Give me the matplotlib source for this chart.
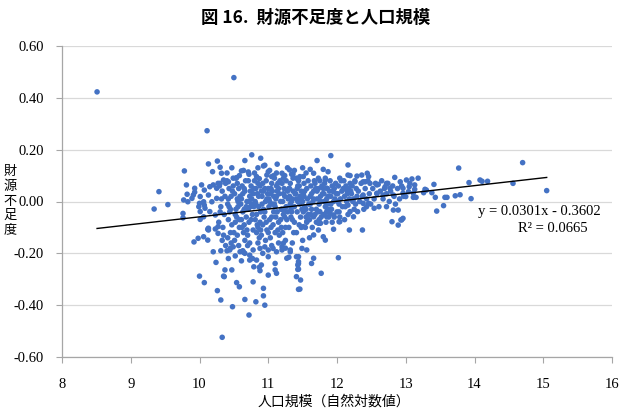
import matplotlib
matplotlib.use("Agg")
import matplotlib.pyplot as plt
import numpy as np

# --- data (x = log population, y = shortfall ratio) ---
outliers = [(8.51, 0.423), (10.50, 0.478), (10.11, 0.273), (10.33, -0.524),
            (10.72, -0.438), (10.48, -0.406)]

left_pts = [(9.41, 0.038), (9.34, -0.029), (9.54, -0.012), (9.78, 0.118), (9.81, 0.064),
            (9.82, 0.028), (9.93, 0.051), (9.93, 0.036), (10.01, 0.019), (10.03, 0.064),
            (10.07, -0.014), (9.99, -0.02), (9.89, 0.012), (9.76, -0.046), (9.77, 0.006),
            (10.15, 0.057), (10.2, 0.064), (10.25, 0.051), (10.13, 0.025), (10.18, -0.001),
            (10.25, 0.012), (10.15, -0.039), (10.23, -0.052), (10.01, -0.039), (10.06, -0.059),
            (10.13, -0.103), (10.27, -0.097), (9.76, -0.063), (10.01, -0.069), (10.08, -0.026),
            (9.91, 0.025), (9.83, -0.001), (10.06, -0.001), (10.0, -0.007), (10.07, 0.044),
            (10.13, 0.145), (10.19, 0.115), (10.26, 0.156), (10.3, 0.132), (10.32, 0.109),
            (10.27, 0.07), (9.92, -0.156), (9.98, -0.142), (10.06, -0.136), (10.12, -0.149),
            (10.13, -0.11), (10.23, -0.106), (10.27, -0.123), (10.2, -0.194), (10.24, -0.235),
            (10.0, -0.288), (10.07, -0.313), (10.12, -0.107)]

lower_pts = [(10.26, -0.344), (10.31, -0.38), (10.66, -0.378), (10.82, -0.387), (10.95, -0.4),
             (10.93, -0.364), (10.93, -0.335), (10.78, -0.31), (10.58, -0.329), (10.54, -0.313),
             (10.36, -0.29), (10.47, -0.264), (10.37, -0.264), (10.61, -0.229), (10.73, -0.226),
             (10.79, -0.252), (10.87, -0.254), (10.88, -0.267), (11.0, -0.284), (11.1, -0.264),
             (11.12, -0.277), (11.41, -0.29), (11.44, -0.339), (11.43, -0.262), (11.43, -0.245),
             (10.31, -0.19), (10.4, -0.19), (10.44, -0.187), (10.49, -0.175), (10.59, -0.194),
             (10.66, -0.2), (10.73, -0.207), (10.78, -0.187), (10.88, -0.181), (10.95, -0.175),
             (11.0, -0.187), (11.07, -0.181), (11.12, -0.194), (11.2, -0.187), (11.27, -0.219),
             (11.32, -0.194), (11.41, -0.213), (11.44, -0.232), (10.83, -0.226), (10.9, -0.245),
             (11.0, -0.213), (11.1, -0.239), (11.49, -0.181), (11.56, -0.187), (11.32, -0.187),
             (11.3, -0.215), (11.44, -0.213), (11.66, -0.219), (11.63, -0.239), (11.44, -0.239),
             (11.44, -0.261), (11.47, -0.303), (11.46, -0.338), (11.77, -0.277), (12.02, -0.217),
             (11.2, -0.175), (11.22, -0.161), (11.8, -0.136), (11.83, -0.149), (11.66, -0.129),
             (11.95, -0.107), (12.18, -0.11), (12.37, -0.11), (10.64, -0.196), (10.35, -0.288),
             (10.45, -0.18), (10.52, -0.21), (10.57, -0.17), (10.63, -0.19), (10.70, -0.17),
             (10.77, -0.22), (10.85, -0.16), (10.92, -0.20), (11.05, -0.17), (11.15, -0.16),
             (11.25, -0.18), (11.35, -0.16), (11.5, -0.15), (11.6, -0.14), (10.38, -0.17),
             (10.42, -0.22)]

upper_pts = [(10.76, 0.18), (10.66, 0.158), (10.89, 0.167), (10.93, 0.137), (11.13, 0.144),
             (11.31, 0.122), (10.71, 0.114), (10.72, 0.105), (10.61, 0.118), (10.54, 0.092),
             (10.83, 0.096), (10.87, 0.088), (10.98, 0.102), (11.08, 0.1), (11.2, 0.109),
             (11.22, 0.09), (11.36, 0.106), (11.44, 0.083), (11.0, 0.115), (11.05, 0.096),
             (11.24, 0.1), (11.41, 0.09), (10.35, 0.083), (10.42, 0.076), (10.49, 0.09),
             (10.3, 0.07), (11.71, 0.158), (11.91, 0.177), (12.16, 0.141), (11.87, 0.115),
             (11.8, 0.124), (11.61, 0.124), (11.66, 0.109), (11.34, 0.105), (11.46, 0.096),
             (11.51, 0.096), (11.73, 0.09), (11.83, 0.083), (12.04, 0.09), (12.16, 0.102),
             (12.29, 0.098), (12.36, 0.102), (12.44, 0.109), (12.38, 0.076), (12.48, 0.07),
             (12.58, 0.064), (12.72, 0.07), (12.84, 0.093), (12.92, 0.076), (12.19, 0.1),
             (12.26, 0.076), (12.46, 0.096), (12.41, 0.076), (12.6, 0.066), (12.7, 0.057),
             (12.77, 0.051), (12.96, 0.051), (12.82, 0.025), (12.67, 0.025), (12.58, 0.032),
             (12.38, 0.025), (12.14, 0.044), (11.95, 0.038), (11.85, 0.051),
             (10.40, 0.11), (10.47, 0.13), (10.58, 0.10), (10.64, 0.12), (10.80, 0.11),
             (10.85, 0.13), (11.02, 0.12), (11.12, 0.11), (11.28, 0.13), (11.38, 0.12),
             (11.50, 0.13), (10.95, 0.14), (11.55, 0.11)]

core_pts = [
    (10.31, -0.02), (10.33, 0.04), (10.28, -0.08), (10.35, -0.13), (10.32, 0.01), (10.29, 0.06),
    (10.36, -0.05), (10.34, -0.10), (10.30, -0.04), (10.37, 0.02), (10.33, -0.15), (10.38, 0.07),
    (10.41, -0.01), (10.43, 0.05), (10.42, -0.07), (10.45, -0.12), (10.40, 0.08), (10.46, 0.02),
    (10.44, -0.04), (10.47, -0.09), (10.41, -0.14), (10.48, 0.04), (10.43, -0.02), (10.46, -0.16),
    (10.49, 0.06), (10.42, 0.01),
    (10.51, 0.03), (10.53, -0.03), (10.52, -0.08), (10.55, 0.07), (10.50, -0.12), (10.56, 0.00),
    (10.54, -0.06), (10.57, 0.05), (10.51, -0.15), (10.58, -0.10), (10.53, 0.09), (10.56, -0.02),
    (10.59, 0.02), (10.52, -0.05), (10.55, -0.13),
    (10.61, 0.01), (10.63, -0.04), (10.62, 0.06), (10.65, -0.09), (10.60, -0.01), (10.66, 0.04),
    (10.64, -0.12), (10.67, 0.08), (10.61, -0.07), (10.68, -0.02), (10.63, 0.03), (10.66, -0.15),
    (10.69, 0.00), (10.62, -0.10), (10.65, 0.05), (10.68, -0.06),
    (10.71, -0.03), (10.73, 0.02), (10.72, -0.08), (10.75, 0.06), (10.70, -0.13), (10.76, -0.01),
    (10.74, 0.04), (10.77, -0.05), (10.71, 0.08), (10.78, -0.11), (10.73, -0.16), (10.76, 0.01),
    (10.79, 0.05), (10.72, 0.00), (10.75, -0.07), (10.78, 0.03),
    (10.81, 0.00), (10.83, -0.05), (10.82, 0.05), (10.85, -0.10), (10.80, 0.08), (10.86, -0.02),
    (10.84, 0.03), (10.87, -0.14), (10.81, -0.07), (10.88, 0.06), (10.83, -0.12), (10.86, 0.02),
    (10.89, -0.04), (10.82, -0.01), (10.85, 0.07), (10.88, -0.08),
    (10.91, 0.02), (10.93, -0.03), (10.92, -0.09), (10.95, 0.05), (10.90, -0.13), (10.96, 0.00),
    (10.94, -0.06), (10.97, 0.08), (10.91, -0.01), (10.98, -0.11), (10.93, 0.04), (10.96, -0.15),
    (10.99, 0.03), (10.92, 0.07), (10.95, -0.04), (10.98, 0.01),
    (11.01, -0.02), (11.03, 0.03), (11.02, -0.07), (11.05, 0.07), (11.00, -0.12), (11.06, -0.01),
    (11.04, 0.05), (11.07, -0.09), (11.01, 0.01), (11.08, -0.04), (11.03, -0.14), (11.06, 0.04),
    (11.09, 0.09), (11.02, 0.00), (11.05, -0.06), (11.08, 0.02),
    (11.11, 0.01), (11.13, -0.04), (11.12, 0.06), (11.15, -0.08), (11.10, -0.02), (11.16, 0.03),
    (11.14, -0.11), (11.17, 0.08), (11.11, -0.06), (11.18, 0.00), (11.13, 0.04), (11.16, -0.13),
    (11.19, -0.03), (11.12, 0.02), (11.15, 0.05), (11.18, -0.07),
    (11.21, 0.00), (11.23, 0.05), (11.22, -0.05), (11.25, -0.10), (11.20, 0.07), (11.26, -0.02),
    (11.24, 0.02), (11.27, -0.07), (11.21, -0.12), (11.28, 0.04), (11.23, -0.03), (11.26, 0.08),
    (11.29, 0.01), (11.22, 0.03), (11.25, -0.15), (11.28, -0.04),
    (11.31, 0.02), (11.33, -0.03), (11.32, 0.07), (11.35, -0.07), (11.30, -0.10), (11.36, 0.04),
    (11.34, 0.00), (11.37, -0.12), (11.31, 0.05), (11.38, -0.02), (11.33, -0.06), (11.36, 0.09),
    (11.39, 0.03), (11.32, -0.01), (11.35, 0.01),
    (11.41, 0.01), (11.43, 0.06), (11.42, -0.04), (11.45, -0.09), (11.40, 0.03), (11.46, -0.01),
    (11.44, 0.08), (11.47, -0.06), (11.41, -0.12), (11.48, 0.04), (11.43, 0.00), (11.46, 0.02),
    (11.49, -0.03), (11.42, 0.05),
    (11.51, 0.03), (11.53, -0.02), (11.52, 0.07), (11.55, -0.06), (11.50, 0.00), (11.56, 0.05),
    (11.54, -0.10), (11.57, 0.01), (11.51, -0.04), (11.58, 0.08), (11.53, 0.04), (11.56, -0.08),
    (11.59, -0.01), (11.52, 0.02),
    (11.61, 0.02), (11.63, -0.03), (11.62, 0.06), (11.65, 0.00), (11.60, -0.07), (11.66, 0.04),
    (11.64, -0.10), (11.67, 0.08), (11.61, -0.01), (11.68, -0.05), (11.63, 0.03), (11.66, 0.01),
    (11.69, 0.05),
    (11.71, 0.01), (11.73, 0.05), (11.72, -0.04), (11.75, 0.08), (11.70, -0.08), (11.76, 0.02),
    (11.74, -0.01), (11.77, -0.06), (11.71, 0.04), (11.78, 0.06), (11.73, -0.11), (11.76, 0.00),
    (11.79, 0.03),
    (11.81, 0.03), (11.83, -0.02), (11.82, 0.07), (11.85, 0.01), (11.80, -0.05), (11.86, 0.05),
    (11.84, -0.08), (11.87, 0.02), (11.81, 0.00), (11.88, -0.03), (11.83, 0.09), (11.86, -0.01),
    (11.89, 0.04),
    (11.91, 0.02), (11.93, 0.06), (11.92, -0.03), (11.95, 0.00), (11.90, 0.08), (11.96, -0.06),
    (11.94, 0.04), (11.97, 0.01), (11.91, -0.01), (11.98, 0.07), (11.93, -0.08), (11.99, 0.03),
    (12.01, 0.03), (12.03, -0.01), (12.02, 0.06), (12.05, 0.01), (12.00, -0.04), (12.06, 0.08),
    (12.04, -0.06), (12.07, 0.04), (12.01, 0.00), (12.08, -0.02), (12.09, 0.05),
    (12.11, 0.02), (12.13, 0.06), (12.12, -0.02), (12.15, 0.03), (12.10, 0.08), (12.16, -0.05),
    (12.14, 0.00), (12.17, 0.05), (12.11, -0.07), (12.18, 0.01), (12.19, 0.07),
    (12.21, 0.03), (12.23, 0.00), (12.22, 0.06), (12.25, -0.03), (12.20, 0.04), (12.26, 0.08),
    (12.24, 0.01), (12.27, -0.01), (12.28, 0.05), (12.29, 0.02),
    (12.31, 0.04), (12.33, 0.00), (12.35, 0.07), (12.37, 0.02), (12.39, -0.03), (12.41, 0.05),
    (12.43, 0.01), (12.45, 0.08), (12.47, 0.03), (12.49, -0.01),
    (12.52, 0.05), (12.54, 0.01), (12.56, 0.07), (12.58, 0.03), (12.61, -0.02), (12.63, 0.04),
    (12.65, 0.08), (12.67, 0.01), (12.69, 0.05),
    (12.72, 0.03), (12.74, 0.07), (12.76, 0.00), (12.78, 0.04), (12.81, 0.06), (12.83, 0.02),
    (12.85, -0.01), (12.88, 0.05), (12.91, 0.01), (12.94, 0.06), (12.97, 0.02),
    # extra fill of the densest part
    (10.45, -0.03), (10.58, -0.07), (10.69, -0.11), (10.74, -0.02), (10.84, -0.09), (10.90, 0.04),
    (10.97, -0.08), (11.04, -0.10), (11.09, -0.01), (11.14, 0.07), (11.19, -0.10), (11.24, -0.06),
    (11.30, 0.05), (11.38, -0.08), (11.45, 0.06), (11.48, -0.10), (11.55, -0.03), (11.62, -0.05),
    (11.68, 0.07), (11.74, -0.07), (11.80, 0.05), (11.88, -0.06), (11.96, 0.05), (12.03, -0.04),
    (10.55, 0.01), (10.65, -0.03), (10.79, -0.02), (10.89, -0.11), (11.00, 0.05), (11.10, -0.12),
    (11.20, -0.03), (11.34, -0.04), (11.47, 0.01), (11.58, -0.05), (11.70, -0.03), (11.85, -0.04)]

midright_pts = [(12.38, -0.007), (12.46, -0.007), (12.54, -0.026), (12.72, -0.02), (12.82, -0.033),
                (12.89, -0.033), (12.8, -0.078), (12.89, -0.091), (12.93, -0.071), (12.19, -0.039),
                (12.24, -0.059), (12.3, -0.039), (12.03, -0.078), (11.86, -0.033), (11.9, -0.046),
                (11.73, -0.084), (11.76, -0.084), (12.16, -0.014), (12.43, -0.02), (12.96, -0.065),
                (12.04, -0.078), (11.95, -0.052), (11.85, -0.059), (11.75, -0.039), (11.66, -0.059),
                (11.56, -0.078), (11.51, -0.097)]

right_pts = [(13.01, 0.083), (13.06, 0.07), (13.09, 0.087), (13.18, 0.09), (13.13, 0.047),
             (13.28, 0.047), (13.38, 0.034), (13.41, 0.066), (13.43, 0.016), (13.45, -0.037),
             (13.55, -0.016), (13.57, 0.016), (13.6, 0.016), (13.72, 0.022), (13.79, 0.026),
             (13.77, 0.129), (13.92, 0.073), (13.95, 0.011), (14.08, 0.083), (14.11, 0.078),
             (14.19, 0.078), (14.56, 0.07), (14.7, 0.15), (15.05, 0.042), (12.94, -0.071),
             (12.96, 0.032), (13.0, 0.019), (13.11, 0.016), (13.15, 0.016), (13.26, 0.034),
             (13.05, 0.057), (13.11, 0.032), (13.3, 0.044), (13.04, 0.038), (13.13, 0.064)]

slope = 0.0301
intercept = -0.3602
r2 = 0.0665

x_ticks = [8, 9, 10, 11, 12, 13, 14, 15, 16]
y_ticks = [-0.6, -0.4, -0.2, 0.0, 0.2, 0.4, 0.6]

title = "図 16.  財源不足度と人口規模"
xlabel = "人口規模（自然対数値）"
ylabel = "財源不足度"

pts = np.array(outliers + left_pts + lower_pts + upper_pts + core_pts + midright_pts + right_pts)
x = pts[:, 0]
y = pts[:, 1]

cjk = ["Noto Sans CJK JP", "DejaVu Sans"]
serif = "Liberation Serif"

fig = plt.figure(figsize=(6.21, 4.13), dpi=100)
ax = fig.add_axes([62/621, 1 - 357/413, 550/621, 311/413])

ax.scatter(x, y, s=16, color="#4472C4", edgecolors="none", zorder=3)

xl = np.array([x.min(), x.max()])
ax.plot(xl, slope * xl + intercept, color="black", lw=1.0, zorder=4)

ax.set_xlim(8, 16)
ax.set_ylim(-0.6, 0.6)
ax.set_xticks(x_ticks)
ax.set_yticks(y_ticks)
ax.set_xticklabels([str(t) for t in x_ticks], fontfamily=serif, fontsize=10.5)
ax.set_yticklabels([f"{t:.2f}" for t in y_ticks], fontfamily=serif, fontsize=10.5)

ax.grid(axis="y", color="#d9d9d9", lw=0.9, zorder=0)
ax.set_axisbelow(True)
for s in ["top", "right"]:
    ax.spines[s].set_visible(False)
for s in ["left", "bottom"]:
    ax.spines[s].set_color("#a6a6a6")
    ax.spines[s].set_linewidth(0.9)
ax.tick_params(axis="x", direction="out", length=4, color="#a6a6a6", pad=11)
ax.tick_params(axis="y", direction="out", length=4, color="#a6a6a6", pad=9)

ax.text(15.84, -0.037, f"y = {slope:.4f}x - {abs(intercept):.4f}", fontfamily=serif,
        fontsize=10.5, ha="right", va="center")
ax.text(15.64, -0.106, f"R² = {r2:.4f}", fontfamily=serif, fontsize=10.5,
        ha="right", va="center")

fig.text(316/621, 1 - 18/413, title, fontfamily=cjk, fontsize=12.5, fontweight="bold",
         ha="center", va="center")
fig.text(334/621, 1 - 402/413, xlabel, fontfamily=cjk, fontsize=10, ha="center", va="center")
fig.text(10/621, 1 - 201/413, "\n".join(ylabel), fontfamily=cjk, fontsize=9.5,
         ha="center", va="center", linespacing=1.15)

fig.savefig("out.png", dpi=100)
